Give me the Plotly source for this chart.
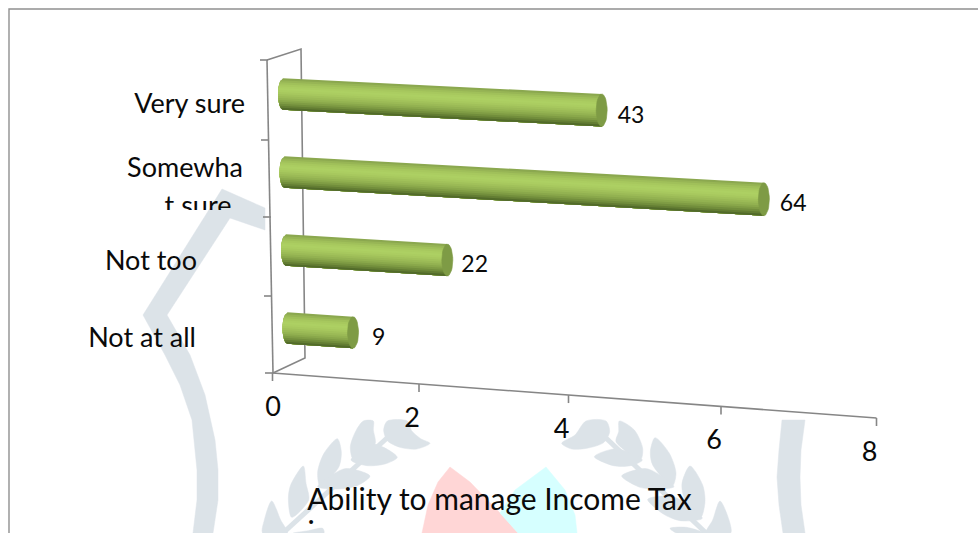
import math
import plotly.graph_objects as go

# Survey responses, drawn top to bottom
CATEGORIES = ["Very sure", "Somewhat sure", "Not too", "Not at all"]
RESPONSES = [43, 64, 22, 9]
# The value axis is labelled in tens
TICK_VALUES = [0, 20, 40, 60, 80]
TICK_LABELS = ["0", "2", "4", "6", "8"]
TITLE_LINE = "Ability to manage Income Tax"

W, H = 978, 533
FONT = "Lato"
AXIS_GREY = "#868686"
MARK_GREY = "#dce3e8"


def run(value):
    """Horizontal run of a value on the receding chart floor."""
    return 7.25 * value + 0.00375 * value ** 2


def floor_point(value):
    dx = run(value)
    return 272.5 + dx, 373 + 0.0745 * dx


def bar_axis(row, value):
    """Centre of a cylinder cross-section for a row at a given value."""
    dx = run(value)
    return 283 + 1.5 * row + dx, 94 + 78 * row + (0.051 + 0.0058 * row) * dx


def bar_radius(value):
    return 15.7 + 0.0018 * run(value)


fig = go.Figure()


def line(xs, ys, color=AXIS_GREY, width=1.6):
    fig.add_trace(go.Scatter(x=xs, y=ys, mode="lines", line=dict(color=color, width=width)))


def patch(points, color, smooth=False):
    xs = [p[0] for p in points] + [points[0][0]]
    ys = [p[1] for p in points] + [points[0][1]]
    shape = dict(shape="spline", smoothing=0.8) if smooth else dict(shape="linear")
    fig.add_trace(go.Scatter(x=xs, y=ys, mode="lines", fill="toself", fillcolor=color,
                             line=dict(color=color, width=0.5, **shape)))


def zoomed(points, ox, oy):
    return [(ox + a / 3, oy + b / 3) for a, b in points]


# Seal artwork sitting behind the chart
patch([(222, 189), (265, 208), (265, 230), (230, 218), (167, 315), (190, 355), (205, 395),
       (215, 440), (218, 470), (218, 500), (213, 533), (193, 533), (197, 500), (197, 470),
       (192, 420), (180, 385), (165, 355), (143, 315)], MARK_GREY)
patch([(782, 420), (805, 420), (801, 450), (800, 477), (801, 505), (805, 533), (783, 533),
       (779, 505), (777, 477), (779, 450)], MARK_GREY)

LEFT_LEAVES = [
    [(412, 33), (401, 60), (412, 92), (450, 112), (500, 117), (540, 100), (512, 86), (485, 62), (472, 33)],
    [(370, 33), (340, 33), (318, 62), (301, 110), (310, 148), (350, 128), (376, 100), (370, 60)],
    [(372, 103), (442, 142), (405, 162), (350, 167), (303, 150)],
    [(262, 86), (222, 130), (203, 185), (210, 228), (266, 172), (274, 125)],
    [(285, 176), (360, 198), (322, 227), (260, 237), (203, 230)],
    [(160, 168), (122, 225), (115, 265), (125, 322), (176, 270), (168, 220)],
    [(130, 369), (175, 362), (218, 355), (222, 369)],
    [(65, 273), (43, 330), (38, 369), (112, 369), (92, 330)],
]
RIGHT_LEAVES = [
    [(185, 100), (225, 75), (258, 33), (318, 33), (329, 65), (312, 97), (265, 114), (215, 117)],
    [(358, 33), (403, 60), (428, 115), (422, 148), (348, 95), (356, 65)],
    [(283, 140), (350, 116), (427, 150), (392, 167), (340, 167)],
    [(465, 83), (508, 130), (528, 190), (517, 228), (458, 165), (451, 125)],
    [(365, 198), (440, 176), (522, 230), (472, 237), (420, 232)],
    [(570, 168), (608, 225), (615, 275), (602, 322), (553, 265), (546, 220)],
    [(443, 268), (520, 260), (607, 325), (540, 332), (490, 312)],
    [(660, 273), (687, 330), (692, 369), (618, 369), (638, 330)],
    [(510, 355), (560, 352), (612, 369), (530, 369)],
]
for leaf in LEFT_LEAVES:
    patch(zoomed(leaf, 250, 410), MARK_GREY, smooth=True)
for leaf in RIGHT_LEAVES:
    patch(zoomed(leaf, 500, 410), MARK_GREY, smooth=True)
line([387, 283], [438, 533], MARK_GREY, 5)
line([606, 706], [438, 533], MARK_GREY, 5)

patch([(450, 467), (470, 482), (500, 513), (518, 533), (422, 533), (428, 505), (438, 482)], "#ffd6d6")
patch([(546, 467), (565, 490), (575, 515), (577, 533), (518, 533), (500, 513), (515, 490)], "#d6ffff")

# Page frame
line([9, 9, W], [H, 9, 9], "#909090", 1.4)

# Wall, floor edge and back corner of the box
line([267, 273], [60, 373])
line([267, 301, 305, 273], [60, 49, 358, 373])
for y, x in zip([60, 140, 217, 296, 373], [260, 261, 263, 264, 265]):
    line([x, x + 8], [y, y])
axis_pts = [floor_point(v) for v in TICK_VALUES]
line([p[0] for p in axis_pts], [p[1] for p in axis_pts])
for x, y in axis_pts:
    line([x, x], [y, y + 8])

# Cylinders are layered top to bottom: each band runs from its own height
# down to the lower edge, so the next one paints over it without seams
SHADES = ["#8ba84f", "#97b555", "#a0c05a", "#a7c85e", "#abcd61", "#add063", "#abcd61",
          "#a7c85e", "#a1c15a", "#9bba56", "#93b251", "#8aa84b", "#7f9c44", "#728e3c",
          "#637d33", "#526b2a"]
for i, shade in enumerate(SHADES):
    start = -1 + 2 * i / len(SHADES)
    xs, ys = [], []
    for row, value in enumerate(RESPONSES):
        x0, y0 = bar_axis(row, 0)
        x1, y1 = bar_axis(row, value)
        r0, r1 = bar_radius(0), bar_radius(value)
        heights = [start + (1 - start) * k / 10 for k in range(11)]
        # Left end follows the rounded back of the cylinder
        xs += [x0 - 5 * math.sqrt(max(0, 1 - h ** 2)) for h in heights] + [x1, x1, None]
        ys += [y0 + h * r0 for h in heights] + [y1 + r1, y1 + start * r1, None]
    fig.add_trace(go.Scatter(x=xs, y=ys, mode="lines", fill="toself", fillcolor=shade,
                             line=dict(width=0)))

# Flat end caps
for row, value in enumerate(RESPONSES):
    x1, y1 = bar_axis(row, value)
    r1 = bar_radius(value)
    steps = range(0, 37)
    fig.add_trace(go.Scatter(
        x=[x1 + 5.5 * math.cos(k * math.pi / 18) for k in steps],
        y=[y1 + r1 * math.sin(k * math.pi / 18) for k in steps],
        mode="lines", fill="toself", fillcolor="#7e9b45", line=dict(color="#7e9b45", width=0.6)))


def text(xs, ys, labels, position, size, xaxis="x", yaxis="y"):
    fig.add_trace(go.Scatter(x=xs, y=ys, text=labels, mode="text", textposition=position,
                             textfont=dict(family=FONT, size=size, color="#0a0a0a"),
                             xaxis=xaxis, yaxis=yaxis))


# Category labels; the long one wraps and its second line is cut by the label box
CAT_SIZE = 27
text([245], [106], [CATEGORIES[0]], "middle left", CAT_SIZE)
text([243], [170], [CATEGORIES[1][:7]], "middle left", CAT_SIZE)
text([198], [208], [CATEGORIES[1][7:]], "middle center", CAT_SIZE, "x2", "y2")
text([197], [263], [CATEGORIES[2]], "middle left", CAT_SIZE)
text([196], [340], [CATEGORIES[3]], "middle left", CAT_SIZE)

# Value labels beside each end cap
LABEL_GAP = [16, 16, 14, 19]
for row, value in enumerate(RESPONSES):
    x1, y1 = bar_axis(row, value)
    text([x1 + LABEL_GAP[row]], [y1 + 6.5], [str(value)], "middle right", 23)

# Value axis labels
for value, label in zip(TICK_VALUES, TICK_LABELS):
    x, y = floor_point(value)
    text([x + (0.5 if value == 0 else -7)], [y + 36], [label], "middle center", 27)

# Axis title; the wrapped line below it is cut off by the chart's lower edge
text([499.5], [502], [TITLE_LINE], "middle center", 30)
text([311], [535], ["i"], "middle center", 30, "x3", "y3")

hidden = dict(visible=False, fixedrange=True)
fig.update_layout(
    width=W, height=H, margin=dict(l=0, r=0, t=0, b=0),
    paper_bgcolor="white", plot_bgcolor="rgba(0,0,0,0)", showlegend=False, hovermode=False,
    xaxis=dict(range=[0, W], domain=[0, 1], **hidden),
    yaxis=dict(range=[H, 0], domain=[0, 1], **hidden),
    xaxis2=dict(range=[0, W], domain=[0, 1], anchor="y2", **hidden),
    yaxis2=dict(range=[210, 0], domain=[(H - 210) / H, 1], anchor="x2", **hidden),
    xaxis3=dict(range=[0, W], domain=[0, 1], anchor="y3", **hidden),
    yaxis3=dict(range=[527, 0], domain=[(H - 527) / H, 1], anchor="x3", **hidden),
)
fig.write_html("out.html", config=dict(displayModeBar=False, responsive=False))
